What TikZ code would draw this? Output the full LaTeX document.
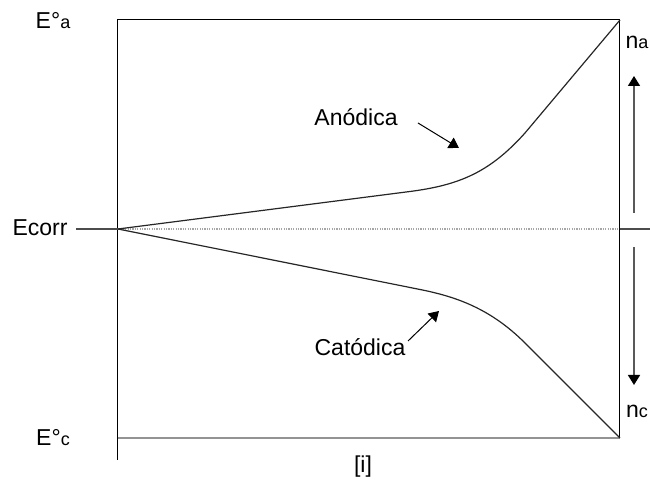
\documentclass[tikz,border=0pt]{standalone}
\usepackage{fontspec}
\setmainfont{Liberation Sans}
\usepackage{tikz}
\usetikzlibrary{arrows.meta,positioning}
\newcommand{\smallidx}[1]{{\fontsize{9}{10}\selectfont #1}}
\tikzset{
  lbl/.style={font=\fontsize{11.5}{13}\selectfont,inner sep=0pt,anchor=base},
  frame/.style={line width=0.5pt,black},
  baseline/.style={line width=1pt,gray!85},
  tick/.style={line width=0.75pt,gray!60!black},
  rest/.style={line width=0.6pt,gray!70,dash pattern=on 0.6pt off 0.6pt},
  curve/.style={line width=0.6pt,black!85},
  pointer/.style={line width=0.5pt,-{Triangle[length=5pt,width=6pt]}},
  overpot/.style={line width=0.75pt,gray!70!black,
    -{Triangle[length=5pt,width=6pt,color=black]}}
}
\begin{document}
\begin{tikzpicture}[x=0.5pt,y=-0.5pt]
\useasboundingbox (0,0) rectangle (650,485);
% frame corners
\coordinate (tl) at (118,20);
\coordinate (tr) at (620,20);
\coordinate (br) at (620,438);
\coordinate (bl) at (118,438);
\coordinate (foot) at (118,460);
\coordinate (corr) at (118,229);
\coordinate (corrr) at (620,229);
\coordinate (corrin) at (76,229);
\coordinate (corrout) at (650,229);
\draw[frame] (foot) -- (tl) -- (tr) -- (br);
\draw[baseline] (bl) -- (br);
\draw[rest] (corr) -- (corrr);
\draw[tick] (corrin) -- (corr);
\draw[tick] (corrr) -- (corrout);
% polarisation curves
\draw[curve] (corr) -- (410,191.5) .. controls (460,185) and (490,172) .. (525,133) -- (tr);
\draw[curve] (corr) -- (420,289.5) .. controls (455,296.5) and (490,308) .. (525,343) -- (br);
% labels
\node[lbl] (ea) at (53,29) {E°\smallidx{a}};
\node[lbl] (ec) at (53,446) {E°\smallidx{c}};
\node[lbl] (ecorr) at (40,236) {Ecorr};
\node[lbl] (na) at (637,49) {n\smallidx{a}};
\node[lbl] (nc) at (637,418) {n\smallidx{c}};
\node[lbl] (imark) at (363,473) {[i]};
\node[lbl] (anod) at (356,126) {Anódica};
\node[lbl] (catod) at (360,356) {Catódica};
% pointers
\coordinate (anodtail) at (418,123);
\coordinate (anodtip) at (459,148);
\coordinate (catodtail) at (408,341);
\coordinate (catodtip) at (439,311);
\draw[pointer] (anodtail) -- (anodtip);
\draw[pointer] (catodtail) -- (catodtip);
\coordinate (upfrom) at (634,213);
\coordinate (upto) at (634,76);
\coordinate (downfrom) at (634,247);
\coordinate (downto) at (634,385);
\draw[overpot] (upfrom) -- (upto);
\draw[overpot] (downfrom) -- (downto);
\end{tikzpicture}
\end{document}
